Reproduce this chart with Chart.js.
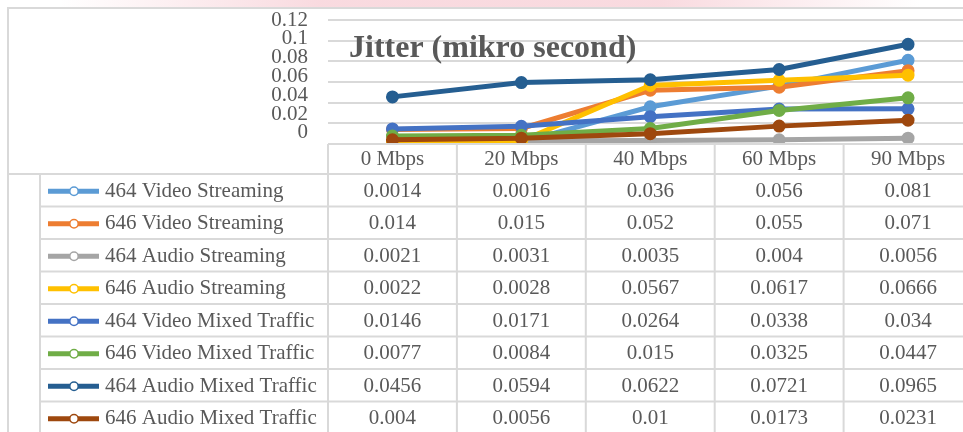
<!DOCTYPE html>
<html>
<head>
<meta charset="utf-8">
<script src="https://cdn.jsdelivr.net/npm/chart.js@4.4.1/dist/chart.umd.min.js"></script>
<style>
  html, body { margin: 0; padding: 0; background: #fff; overflow: hidden; width: 963px; height: 432px; }
  #wrap { position: relative; width: 980px; height: 432px; }
  #pink { position: absolute; left: 60px; top: 0; width: 860px; height: 8px;
          background: linear-gradient(to right, rgba(255,255,255,0), rgba(248,212,218,0.85) 30%, rgba(248,212,218,0.85) 70%, rgba(255,255,255,0)); }
  canvas { position: absolute; left: 0; top: 0; }
</style>
</head>
<body>
<div id="wrap">
  <div id="pink"></div>
  <canvas id="c" width="980" height="432"></canvas>
</div>
<script>
const categories = ['0 Mbps', '20 Mbps', '40 Mbps', '60 Mbps', '90 Mbps'];
const seriesNames = [
  '464 Video Streaming', '646 Video Streaming', '464 Audio Streaming', '646 Audio Streaming',
  '464 Video Mixed Traffic', '646 Video Mixed Traffic', '464 Audio Mixed Traffic', '646 Audio Mixed Traffic'
];
const video464 = [0.0014, 0.0016, 0.036, 0.056, 0.081];
const video646 = [0.014, 0.015, 0.052, 0.055, 0.071];
const audio464 = [0.0021, 0.0031, 0.0035, 0.004, 0.0056];
const audio646 = [0.0022, 0.0028, 0.0567, 0.0617, 0.0666];
const videoMixed464 = [0.0146, 0.0171, 0.0264, 0.0338, 0.034];
const videoMixed646 = [0.0077, 0.0084, 0.015, 0.0325, 0.0447];
const audioMixed464 = [0.0456, 0.0594, 0.0622, 0.0721, 0.0965];
const audioMixed646 = [0.004, 0.0056, 0.01, 0.0173, 0.0231];
const yTickValues = [0, 0.02, 0.04, 0.06, 0.08, 0.1, 0.12];
const yTickLabels = ['0', '0.02', '0.04', '0.06', '0.08', '0.1', '0.12'];
const tableText = [
  ['0.0014', '0.0016', '0.036', '0.056', '0.081'],
  ['0.014', '0.015', '0.052', '0.055', '0.071'],
  ['0.0021', '0.0031', '0.0035', '0.004', '0.0056'],
  ['0.0022', '0.0028', '0.0567', '0.0617', '0.0666'],
  ['0.0146', '0.0171', '0.0264', '0.0338', '0.034'],
  ['0.0077', '0.0084', '0.015', '0.0325', '0.0447'],
  ['0.0456', '0.0594', '0.0622', '0.0721', '0.0965'],
  ['0.004', '0.0056', '0.01', '0.0173', '0.0231']
];
const chartTitle = 'Jitter (mikro second)';

const seriesData = [video464, video646, audio464, audio646, videoMixed464, videoMixed646, audioMixed464, audioMixed646];
const colors = ['#5B9BD5', '#ED7D31', '#A5A5A5', '#FFC000', '#4472C4', '#70AD47', '#255E91', '#9E480E'];

const FONT = '"Liberation Serif", "Times New Roman", serif';
const TEXT = '#595959';
const LINE = '#d9d9d9';

const titlePlugin = {
  id: 'innerTitle',
  beforeDatasetsDraw(chart) {
    const ctx = chart.ctx, y = chart.scales.y;
    ctx.save();
    ctx.font = 'bold 32px ' + FONT;
    ctx.fillStyle = TEXT;
    ctx.textAlign = 'left';
    ctx.textBaseline = 'alphabetic';
    ctx.fillText(chartTitle, chart.chartArea.left + 21, y.getPixelForValue(0.0845));
    ctx.restore();
  }
};

const tablePlugin = {
  id: 'dataTable',
  afterDraw(chart) {
    const ctx = chart.ctx, x = chart.scales.x;
    const n = categories.length;
    const colW = x.getPixelForTick(1) - x.getPixelForTick(0);
    const left = x.getPixelForTick(0) - colW / 2;
    const right = x.getPixelForTick(n - 1) + colW / 2;
    const top = chart.chartArea.bottom;
    const headerH = 30, rowH = 32.5;
    const tableTop = top + headerH;
    const outer = 8, keyColX = 40;
    const bottom = tableTop + rowH * seriesNames.length;
    ctx.save();
    ctx.strokeStyle = LINE;
    ctx.lineWidth = 2;
    ctx.beginPath();
    ctx.moveTo(outer, chart.height + 5); ctx.lineTo(outer, outer); ctx.lineTo(chart.width + 5, outer);
    ctx.stroke();
    ctx.beginPath(); ctx.moveTo(left, top); ctx.lineTo(right, top); ctx.stroke();
    for (let i = 0; i <= n; i++) {
      const cx = left + i * colW;
      ctx.beginPath(); ctx.moveTo(cx, top); ctx.lineTo(cx, bottom); ctx.stroke();
    }
    ctx.beginPath(); ctx.moveTo(keyColX, tableTop); ctx.lineTo(keyColX, bottom); ctx.stroke();
    ctx.beginPath(); ctx.moveTo(outer, tableTop); ctx.lineTo(right, tableTop); ctx.stroke();
    for (let r = 1; r <= seriesNames.length; r++) {
      const ry = tableTop + r * rowH;
      ctx.beginPath(); ctx.moveTo(keyColX, ry); ctx.lineTo(right, ry); ctx.stroke();
    }
    ctx.font = '21px ' + FONT;
    ctx.textBaseline = 'middle';
    for (let r = 0; r < seriesNames.length; r++) {
      const cy = tableTop + r * rowH + rowH / 2 + 1;
      ctx.strokeStyle = colors[r];
      ctx.lineWidth = 5;
      ctx.beginPath(); ctx.moveTo(48, cy); ctx.lineTo(99, cy); ctx.stroke();
      ctx.fillStyle = '#fff';
      ctx.lineWidth = 1.5;
      ctx.beginPath(); ctx.arc(74, cy, 4.2, 0, Math.PI * 2); ctx.fill(); ctx.stroke();
      ctx.fillStyle = TEXT;
      ctx.textAlign = 'left';
      ctx.fillText(seriesNames[r], 105, cy);
      ctx.textAlign = 'center';
      for (let c = 0; c < n; c++) {
        ctx.fillText(tableText[r][c], x.getPixelForTick(c), cy);
      }
    }
    ctx.restore();
  }
};

new Chart(document.getElementById('c'), {
  type: 'line',
  data: {
    labels: categories,
    datasets: seriesNames.map((name, i) => ({
      label: name,
      data: seriesData[i],
      borderColor: colors[i],
      backgroundColor: colors[i],
      pointBackgroundColor: colors[i],
      pointBorderColor: colors[i],
      borderWidth: 5,
      pointRadius: 5.5,
      pointBorderWidth: 2,
      tension: 0,
      order: seriesNames.length - i
    }))
  },
  options: {
    responsive: false,
    animation: false,
    layout: { padding: { left: 0, top: 20, right: 7, bottom: 0 } },
    plugins: { legend: { display: false }, title: { display: false }, tooltip: { enabled: false } },
    scales: {
      x: {
        offset: true,
        grid: { display: false, drawTicks: false },
        border: { display: false },
        ticks: { font: { family: FONT, size: 21 }, color: TEXT, padding: 3, maxRotation: 0, autoSkip: false },
        afterFit(s) { s.height = 288; }
      },
      y: {
        position: 'left',
        min: 0, max: 0.12,
        ticks: { display: false },
        afterBuildTicks(s) { s.ticks = yTickValues.map(v => ({ value: v })); },
        grid: { color: LINE, lineWidth: 2, drawTicks: false },
        border: { display: false },
        afterFit(s) { s.width = 0; s.paddingTop = 0; s.paddingBottom = 0; }
      },
      y2: {
        position: 'left',
        min: -0.0117, max: 0.12,
        grid: { display: false, drawTicks: false },
        border: { display: false },
        afterBuildTicks(s) { s.ticks = yTickValues.map(v => ({ value: v })); },
        ticks: {
          font: { family: FONT, size: 21 }, color: TEXT, padding: 20, autoSkip: false,
          callback(v, i) { return yTickLabels[i]; }
        },
        afterFit(s) { s.width = 328; s.paddingTop = 0; s.paddingBottom = 0; }
      }
    }
  },
  plugins: [titlePlugin, tablePlugin]
});
</script>
</body>
</html>
